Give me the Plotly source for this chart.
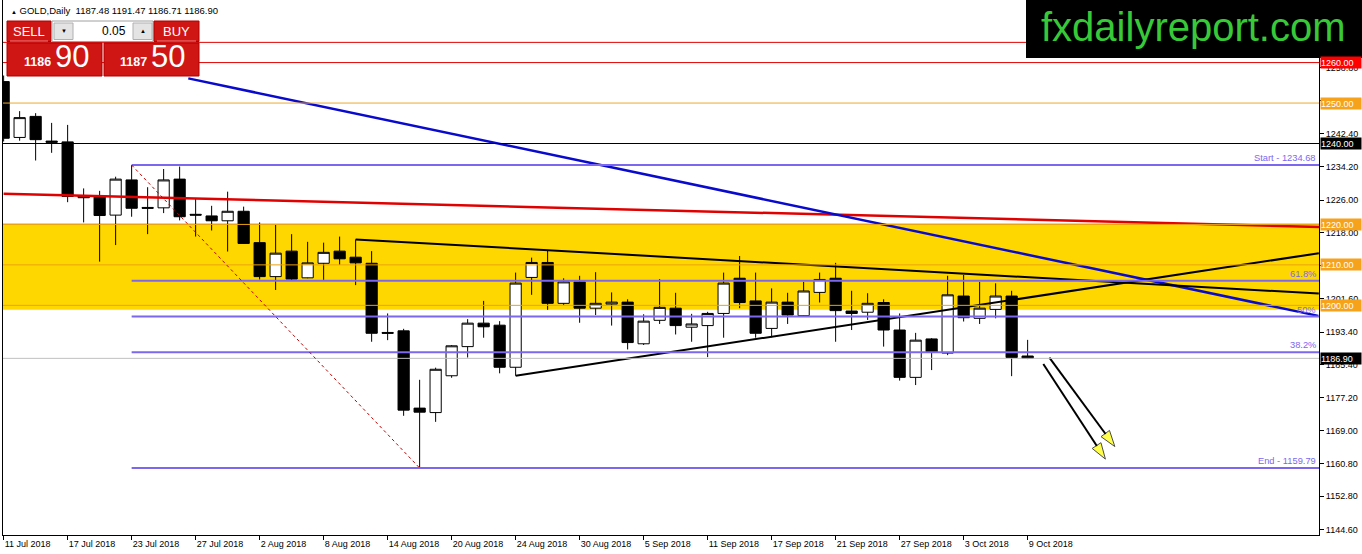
import plotly.graph_objects as go

# ---------------- data ----------------
bar_index = list(range(65))
opens = [1255.3, 1241.5, 1246.7, 1240.6, 1240.4, 1227.0, 1226.9, 1222.3, 1231.0, 1224.2,
         1224.1, 1231.2, 1222.5, 1222.1, 1220.9, 1223.25, 1215.5, 1207.1, 1213.4, 1206.8,
         1210.4, 1213.4, 1211.9, 1210.4, 1193.3, 1193.7, 1174.6, 1173.5, 1182.6, 1189.8,
         1195.6, 1195.1, 1184.7, 1206.9, 1210.6, 1200.5, 1205.8, 1199.3, 1200.3, 1200.8,
         1190.5, 1196.3, 1199.3, 1194.6, 1195.0, 1198.0, 1206.7, 1201.1, 1194.3, 1200.8,
         1197.45, 1203.2, 1206.7, 1198.6, 1198.3, 1200.7, 1193.9, 1182.2, 1191.7, 1188.2,
         1202.3, 1196.8, 1199.0, 1202.3, 1187.48]
highs = [1256.8, 1248.0, 1247.5, 1245.1, 1244.6, 1228.9, 1228.3, 1231.8, 1234.68, 1229.2,
         1233.7, 1234.3, 1226.5, 1224.6, 1228.1, 1224.4, 1220.5, 1219.9, 1217.6, 1215.7,
         1215.5, 1217.0, 1216.3, 1213.4, 1198.0, 1194.2, 1181.6, 1184.6, 1190.2, 1196.6,
         1201.1, 1196.1, 1208.1, 1211.8, 1213.6, 1206.7, 1207.3, 1208.2, 1203.2, 1201.5,
         1197.8, 1206.5, 1203.1, 1197.9, 1198.4, 1208.1, 1212.2, 1208.1, 1204.2, 1203.1,
         1205.8, 1208.1, 1210.5, 1203.6, 1203.0, 1201.5, 1198.0, 1193.2, 1191.9, 1207.3,
         1207.5, 1205.8, 1205.45, 1203.6, 1191.47]
lows = [1240.5, 1240.7, 1235.8, 1237.7, 1225.5, 1220.5, 1210.8, 1214.9, 1221.9, 1217.6,
        1222.8, 1221.0, 1217.0, 1218.5, 1213.3, 1215.2, 1206.4, 1203.8, 1206.3, 1206.7,
        1206.3, 1210.0, 1205.0, 1191.0, 1191.4, 1172.7, 1159.79, 1171.2, 1182.1, 1187.1,
        1192.0, 1183.2, 1182.6, 1202.6, 1198.9, 1200.1, 1195.7, 1197.6, 1195.0, 1189.1,
        1190.2, 1195.4, 1192.8, 1191.0, 1187.2, 1192.0, 1199.3, 1192.0, 1192.1, 1195.4,
        1197.3, 1200.7, 1191.0, 1193.9, 1196.4, 1189.8, 1181.4, 1180.3, 1184.0, 1187.7,
        1196.0, 1195.4, 1196.8, 1182.5, 1186.71]
closes = [1241.3, 1246.4, 1240.95, 1240.3, 1226.9, 1226.6, 1222.2, 1231.2, 1224.0, 1224.0,
          1231.0, 1221.9, 1222.3, 1220.9, 1223.25, 1215.3, 1207.1, 1212.9, 1206.5, 1210.5,
          1213.1, 1211.5, 1210.5, 1193.1, 1193.1, 1174.1, 1173.6, 1184.2, 1190.0, 1195.6,
          1194.7, 1184.7, 1205.5, 1210.6, 1200.5, 1205.8, 1199.3, 1200.5, 1200.8, 1190.8,
          1196.1, 1199.5, 1195.0, 1195.4, 1198.0, 1205.5, 1200.7, 1193.1, 1200.8, 1197.6,
          1203.55, 1206.4, 1198.7, 1198.0, 1200.5, 1193.9, 1182.2, 1191.4, 1188.5, 1202.6,
          1196.95, 1199.3, 1202.3, 1187.1, 1186.90]

date_tick_index = [0, 4, 8, 12, 16, 20, 24, 28, 32, 36, 40, 44, 48, 52, 56, 60, 64]
date_tick_text = ["11 Jul 2018", "17 Jul 2018", "23 Jul 2018", "27 Jul 2018", "2 Aug 2018",
                  "8 Aug 2018", "14 Aug 2018", "20 Aug 2018", "24 Aug 2018", "30 Aug 2018",
                  "5 Sep 2018", "11 Sep 2018", "17 Sep 2018", "21 Sep 2018", "27 Sep 2018",
                  "3 Oct 2018", "9 Oct 2018"]
price_tick_values = [1258.8, 1250.6, 1242.4, 1234.2, 1226.0, 1218.0, 1209.8, 1201.6, 1193.4,
                     1185.4, 1177.2, 1169.0, 1160.8, 1152.8, 1144.6]
# labels fully covered by the level boxes on the price scale are left blank
hidden_price_ticks = [1250.6, 1209.8]
price_tick_text = ["" if v in hidden_price_ticks else "%.2f" % v for v in price_tick_values]

# horizontal levels drawn on the chart
red_levels = [1265.0, 1260.0]
orange_level = 1250.0
black_level = 1240.0
zone_top, zone_bottom = 1220.3, 1198.9
zone_lines = [1220.0, 1210.0, 1200.0]
last_price = 1186.90

# trend objects (bar index, price)
ma_x = [0, 83]
ma_y = [1227.6, 1219.3]
blue_x = [11.54, 82.17]
blue_y = [1256.1, 1197.4]
tri_upper_x = [22, 82.2]
tri_upper_y = [1216.3, 1202.9]
tri_lower_x = [32, 82.2]
tri_lower_y = [1182.6, 1212.9]
fib_start_index, fib_start_price = 8, 1234.68
fib_end_index, fib_end_price = 26, 1159.79
fib_ratios = [0.618, 0.5, 0.382]
fib_ratio_labels = ["61.8%", "50%", "38.2%"]
arrow_tail_x = [65.36, 64.98]
arrow_tail_y = [1187.07, 1185.5]
arrow_tip_x = [69.45, 68.86]
arrow_tip_y = [1165.1, 1162.0]

# label boxes on the price scale
axis_box_values = [1260.0, 1250.0, 1240.0, 1220.0, 1210.0, 1200.0, 1186.90]
axis_box_colors = ["#FF0000", "#F7A21B", "#000000", "#F7A21B", "#F7A21B", "#F7A21B", "#000000"]

# ---------------- layout geometry ----------------
W, H = 1362, 554
PL, PR, PT, PB = 3, 1319, 0, 535
X_RANGE = [-0.04, 82.21]
Y_RANGE = [1143.24, 1275.47]
FONT = "Liberation Sans, Arial, sans-serif"


def px(x):
    return (x - PL) / (PR - PL)


def py(y):
    return (PB - y) / (PB - PT)


fig = go.Figure()

fig.add_trace(go.Candlestick(
    x=bar_index, open=opens, high=highs, low=lows, close=closes,
    increasing=dict(fillcolor="#FFFFFF", line=dict(color="#000000", width=1)),
    decreasing=dict(fillcolor="#000000", line=dict(color="#000000", width=1)),
    whiskerwidth=0, showlegend=False, hoverinfo="skip"))

shapes = []
# yellow zone
shapes.append(dict(type="rect", xref="paper", yref="y", x0=0, x1=1, y0=zone_bottom, y1=zone_top,
                   fillcolor="#FFD700", line=dict(width=0), layer="below"))
for lv in zone_lines:
    shapes.append(dict(type="line", xref="paper", yref="y", x0=0, x1=1, y0=lv, y1=lv,
                       line=dict(color="#EBA10E", width=1)))
for lv in red_levels:
    shapes.append(dict(type="line", xref="paper", yref="y", x0=0, x1=1, y0=lv, y1=lv,
                       line=dict(color="#E00000", width=1)))
shapes.append(dict(type="line", xref="paper", yref="y", x0=0, x1=1, y0=orange_level, y1=orange_level,
                   line=dict(color="#F0A830", width=1)))
shapes.append(dict(type="line", xref="paper", yref="y", x0=0, x1=1, y0=black_level, y1=black_level,
                   line=dict(color="#000000", width=1)))
shapes.append(dict(type="line", xref="paper", yref="y", x0=0, x1=1, y0=last_price, y1=last_price,
                   line=dict(color="#C0C0C0", width=1)))

# fibonacci
fib_levels = [fib_start_price] + [fib_end_price + r * (fib_start_price - fib_end_price) for r in fib_ratios] + [fib_end_price]
for lv in fib_levels:
    shapes.append(dict(type="line", xref="x", yref="y", x0=fib_start_index, x1=X_RANGE[1] + 2, y0=lv, y1=lv,
                       line=dict(color="#7B68EE", width=2)))
shapes.append(dict(type="line", xref="x", yref="y", x0=fib_start_index, x1=fib_end_index,
                   y0=fib_start_price, y1=fib_end_price, line=dict(color="#C00000", width=1, dash="3px,3px")))

# trend lines as traces
fig.add_trace(go.Scatter(x=ma_x, y=ma_y, mode="lines", line=dict(color="#E00000", width=2.5),
                         showlegend=False, hoverinfo="skip"))
fig.add_trace(go.Scatter(x=blue_x, y=blue_y, mode="lines", line=dict(color="#0A0ACD", width=2.5),
                         showlegend=False, hoverinfo="skip"))
fig.add_trace(go.Scatter(x=tri_upper_x, y=tri_upper_y, mode="lines", line=dict(color="#000000", width=2),
                         showlegend=False, hoverinfo="skip"))
fig.add_trace(go.Scatter(x=tri_lower_x, y=tri_lower_y, mode="lines", line=dict(color="#000000", width=2),
                         showlegend=False, hoverinfo="skip"))
for tx, ty, hx, hy in zip(arrow_tail_x, arrow_tail_y, arrow_tip_x, arrow_tip_y):
    fig.add_trace(go.Scatter(
        x=[tx, hx], y=[ty, hy], mode="lines+markers", line=dict(color="#000000", width=2),
        marker=dict(symbol=["circle", "arrow"], size=[0, 17], color="#FFFF00",
                    line=dict(color="#000000", width=1), angleref="previous"),
        showlegend=False, hoverinfo="skip"))

annotations = []
# fib labels
fib_texts = ["Start - %.2f" % fib_start_price] + fib_ratio_labels + ["End - %.2f" % fib_end_price]
for lv, t in zip(fib_levels, fib_texts):
    annotations.append(dict(x=1, xref="paper", y=lv, yref="y", text=t, showarrow=False,
                            xanchor="right", yanchor="bottom", xshift=-1, yshift=0,
                            font=dict(family=FONT, size=9.3, color="#7B68EE")))
# price-scale boxes
for v, c in zip(axis_box_values, axis_box_colors):
    annotations.append(dict(x=1, xref="paper", y=v, yref="y", text="%.2f" % v, showarrow=False,
                            xanchor="left", yanchor="middle", xshift=1, bgcolor=c, width=40, height=11,
                            align="left", borderpad=0,
                            font=dict(family=FONT, size=9, color="#FFFFFF")))

# header
annotations.append(dict(x=px(9), y=py(10), xref="paper", yref="paper", showarrow=False,
                        xanchor="left", yanchor="middle",
                        text="<span style='font-size:6px'>▲</span> GOLD,Daily  1187.48 1191.47 1186.71 1186.90",
                        font=dict(family=FONT, size=9.5, color="#000000")))

# trade panel (decoration)
panel = [
    (7, 21, 51, 41.5, "#D01515", "#B00000"),
    (52, 21, 153, 41.5, "#FFFFFF", "#A0A0A0"),
    (54, 23, 73, 39.5, "#E4E4E4", "#B0B0B0"),
    (133, 23, 152, 39.5, "#E4E4E4", "#B0B0B0"),
    (154, 21, 199, 41.5, "#D01515", "#B00000"),
    (7, 43, 102, 76, "#D01515", "#B00000"),
    (104, 43, 199, 76, "#D01515", "#B00000"),
]
deco = []
for x0, y0, x1, y1, fc, lc in panel:
    deco.append(dict(type="rect", xref="paper", yref="paper", x0=px(x0), x1=px(x1), y0=py(y1), y1=py(y0),
                     fillcolor=fc, line=dict(color=lc, width=1), layer="above"))
deco.append(dict(type="line", xref="paper", yref="paper", x0=px(10), x1=px(48), y0=py(41), y1=py(41),
                 line=dict(color="#F08080", width=1)))
deco.append(dict(type="line", xref="paper", yref="paper", x0=px(157), x1=px(196), y0=py(41), y1=py(41),
                 line=dict(color="#F08080", width=1)))
# logo box
deco.append(dict(type="rect", xref="paper", yref="paper", x0=px(1026), x1=px(1363), y0=py(58), y1=py(-1),
                 fillcolor="#000000", line=dict(width=0), layer="above"))
fig.update_layout(shapes=shapes + deco)


def ptext(x, y, t, size, color, anchor="center", bold=False):
    annotations.append(dict(x=px(x), y=py(y), xref="paper", yref="paper", text=("<b>%s</b>" % t) if bold else t,
                            showarrow=False, xanchor=anchor, yanchor="middle",
                            font=dict(family=FONT, size=size, color=color)))


ptext(29, 31, "SELL", 13, "#FFFFFF")
ptext(176.5, 31, "BUY", 13, "#FFFFFF")
ptext(128, 31, "0.05", 12, "#000000", anchor="right")
ptext(63.5, 31, "▼", 6, "#000000")
ptext(142.5, 31, "▲", 6, "#000000")
ptext(22, 62, "1186", 12.5, "#FFFFFF", anchor="left", bold=True)
ptext(53, 57, "90", 31, "#FFFFFF", anchor="left")
ptext(118, 62, "1187", 12.5, "#FFFFFF", anchor="left", bold=True)
ptext(149, 57, "50", 31, "#FFFFFF", anchor="left")
ptext(1193.5, 27, "fxdailyreport.com", 40, "#38C938")

fig.update_layout(
    annotations=annotations,
    width=W, height=H,
    margin=dict(l=PL, r=W - PR, t=PT, b=H - PB, pad=0),
    paper_bgcolor="#FFFFFF", plot_bgcolor="#FFFFFF",
    showlegend=False,
    font=dict(family=FONT, size=9, color="#000000"),
    xaxis=dict(range=X_RANGE, tickmode="array", tickvals=date_tick_index, ticktext=date_tick_text,
               ticks="outside", ticklen=4, tickcolor="#000000", showgrid=False, zeroline=False,
               showline=True, linecolor="#000000", linewidth=1, rangeslider=dict(visible=False),
               ticklabelposition="outside right", tickfont=dict(family=FONT, size=9, color="#000000")),
    yaxis=dict(range=Y_RANGE, side="right", tickmode="array", tickvals=price_tick_values,
               ticktext=price_tick_text, ticks="outside", ticklen=4, tickcolor="#000000",
               showgrid=False, zeroline=False, showline=True, linecolor="#000000", linewidth=1,
               mirror=True, tickfont=dict(family=FONT, size=9, color="#000000")),
    boxgap=0.3, boxgroupgap=0,
)

fig.write_html("out.html", config=dict(displayModeBar=False),
               post_script="document.body.style.margin='0';document.body.style.overflow='hidden';")
